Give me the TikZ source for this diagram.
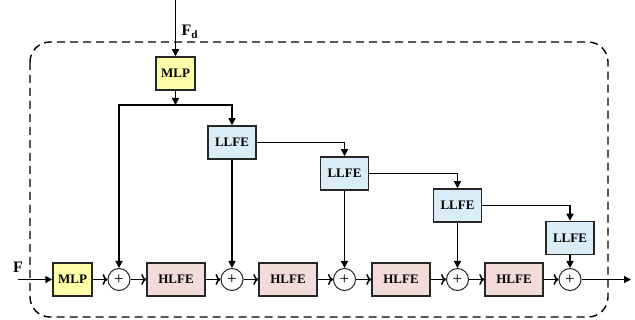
\documentclass[tikz,border=0pt]{standalone}
\usepackage{fontspec}
\setmainfont{Liberation Serif}
\usetikzlibrary{arrows.meta}
\definecolor{mlpfill}{RGB}{255,255,170}
\definecolor{llfefill}{RGB}{218,236,245}
\definecolor{hlfefill}{RGB}{242,220,218}
\tikzset{
  blk/.style={draw=black!85, line width=1.5pt, minimum height=33pt, inner sep=0pt,
              font=\fontsize{13}{13}\selectfont\bfseries},
  mlpbox/.style={blk, fill=mlpfill, minimum width=39pt},
  llfebox/.style={blk, fill=llfefill, minimum width=48pt},
  hlfebox/.style={blk, fill=hlfefill, minimum width=58pt},
  plusnode/.style={draw=black!85, circle, line width=1pt, minimum size=22pt, inner sep=0pt,
              font=\fontsize{17}{17}\selectfont},
  fa/.style={line width=1.5pt, -{Triangle[length=7pt,width=7pt]}},
  oa/.style={line width=1.5pt, -{To[length=5pt,width=11pt]}},
}
\begin{document}
\begin{tikzpicture}[x=1pt,y=-1pt]
\useasboundingbox (0,0) rectangle (635,320);
\draw[line width=1.4pt, dash pattern=on 8pt off 5pt, rounded corners=20pt] (30,42) rectangle (608,317);

\node[mlpbox] (mlpT) at (175.5,73.5) {MLP};
\node[llfebox] (l1) at (232,142.5) {LLFE};
\node[llfebox] (l2) at (344.5,173.5) {LLFE};
\node[llfebox] (l3) at (457.5,205.5) {LLFE};
\node[llfebox] (l4) at (570,238) {LLFE};

\node[mlpbox] (mlpB) at (72.5,279.5) {MLP};
\node[plusnode] (p1) at (119,279.5) {+};
\node[hlfebox] (h1) at (176,279.5) {HLFE};
\node[plusnode] (p2) at (232,279.5) {+};
\node[hlfebox] (h2) at (288,279.5) {HLFE};
\node[plusnode] (p3) at (344.5,279.5) {+};
\node[hlfebox] (h3) at (401,279.5) {HLFE};
\node[plusnode] (p4) at (457.5,279.5) {+};
\node[hlfebox] (h4) at (514,279.5) {HLFE};
\node[plusnode] (p5) at (570,279.5) {+};

\coordinate (fdin) at (175.5,0);
\coordinate (j) at (175.5,105);
\coordinate (fin) at (18,279.5);
\coordinate (out) at (631,279.5);

\node[font=\fontsize{16}{16}\selectfont\bfseries, anchor=west] (fdl) at (178,32) {F\textsubscript{d}};
\node[font=\fontsize{16}{16}\selectfont\bfseries] (fl) at (18,267) {F};

\draw[fa] (fdin) -- (mlpT.north);
\draw[fa] (mlpT.south) -- (j);
\draw[fa] (j) -| (p1.north);
\draw[fa] (j) -| (l1.north);
\draw[fa] (l1.east) -| (l2.north);
\draw[fa] (l2.east) -| (l3.north);
\draw[fa] (l3.east) -| (l4.north);
\draw[fa] (l1.south) -- (p2.north);
\draw[fa] (l2.south) -- (p3.north);
\draw[fa] (l3.south) -- (p4.north);
\draw[fa] (l4.south) -- (p5.north);

\draw[fa] (fin) -- (mlpB.west);
\draw[oa] (mlpB.east) -- (p1.west);
\draw[oa] (p1.east) -- (h1.west);
\draw[oa] (h1.east) -- (p2.west);
\draw[oa] (p2.east) -- (h2.west);
\draw[oa] (h2.east) -- (p3.west);
\draw[oa] (p3.east) -- (h3.west);
\draw[oa] (h3.east) -- (p4.west);
\draw[oa] (p4.east) -- (h4.west);
\draw[oa] (h4.east) -- (p5.west);
\draw[fa] (p5.east) -- (out);
\end{tikzpicture}
\end{document}
